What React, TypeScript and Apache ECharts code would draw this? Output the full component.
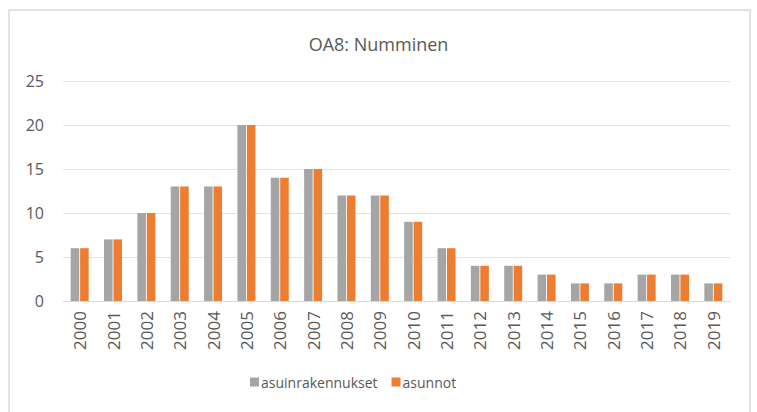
import React, { useEffect, useRef } from "react";
import * as echarts from "echarts";

const years = ["2000","2001","2002","2003","2004","2005","2006","2007","2008","2009","2010","2011","2012","2013","2014","2015","2016","2017","2018","2019"];
const asuinrakennukset = [6,7,10,13,13,20,14,15,12,12,9,6,4,4,3,2,2,3,3,2];
const asunnot = [6,7,10,13,13,20,14,15,12,12,9,6,4,4,3,2,2,3,3,2];
const seriesNames = ["asuinrakennukset", "asunnot"];
const title = "OA8: Numminen";

const FONT = "'Open Sans', sans-serif";
const TXT = "#595959";

export default function App() {
  const ref = useRef<HTMLDivElement>(null);
  useEffect(() => {
    const chart = echarts.init(ref.current!, null, { renderer: "svg" });
    chart.setOption({
      animation: false,
      backgroundColor: "#ffffff",
      textStyle: { fontFamily: FONT },
      graphic: [
        {
          type: "rect",
          shape: { x: 9, y: 10, width: 741, height: 420 },
          style: { fill: "none", stroke: "#d9d9d9", lineWidth: 1.5 },
          silent: true,
        },
      ],
      title: {
        text: title,
        left: "center",
        top: 30,
        textStyle: { fontFamily: FONT, fontSize: 18, fontWeight: "normal", color: TXT },
      },
      legend: {
        data: seriesNames,
        top: 370,
        left: 245,
        itemWidth: 9,
        itemHeight: 9,
        itemGap: 14,
        icon: "rect",
        textStyle: { fontFamily: FONT, fontSize: 14, color: TXT, padding: [0, 0, 0, -3] },
      },
      grid: { left: 63, right: 27, top: 81, bottom: 111, containLabel: false },
      xAxis: {
        type: "category",
        data: years,
        axisLine: { lineStyle: { color: "#d9d9d9" } },
        axisTick: { show: false },
        axisLabel: { rotate: 90, fontFamily: FONT, fontSize: 17, color: TXT, margin: 10 },
      },
      yAxis: {
        type: "value",
        min: 0,
        max: 25,
        interval: 5,
        axisLine: { show: false },
        axisTick: { show: false },
        splitLine: { lineStyle: { color: "#e3e3e3" } },
        axisLabel: { fontFamily: FONT, fontSize: 16, color: TXT, margin: 19 },
      },
      series: [
        {
          name: seriesNames[0],
          type: "bar",
          data: asuinrakennukset,
          itemStyle: { color: "#A5A5A5" },
          barGap: "10%",
          barCategoryGap: "46%",
        },
        {
          name: seriesNames[1],
          type: "bar",
          data: asunnot,
          itemStyle: { color: "#ED7D31" },
          barGap: "10%",
          barCategoryGap: "46%",
        },
      ],
    });
    return () => chart.dispose();
  }, []);
  return <div ref={ref} style={{ width: 757, height: 412, position: "absolute", left: 0, top: 0 }} />;
}
